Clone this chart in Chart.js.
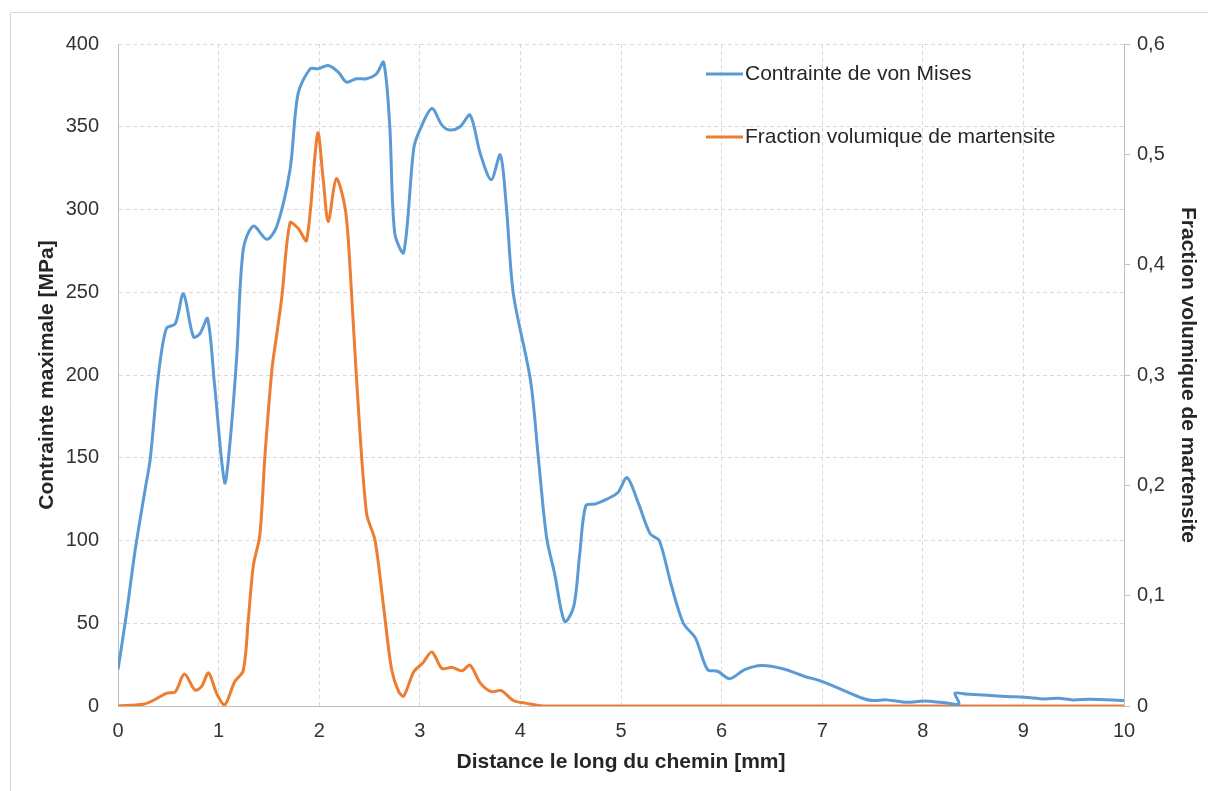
<!DOCTYPE html>
<html><head><meta charset="utf-8">
<script src="https://cdn.jsdelivr.net/npm/chart.js@4/dist/chart.umd.min.js"></script>
<style>html,body{margin:0;padding:0;background:#fff;overflow:hidden}canvas{display:block}</style>
</head><body>
<canvas id="c" width="1208" height="791"></canvas>
<script>
// Contrainte de von Mises [MPa] along the path [mm]
const distanceStress = [0.00,0.085,0.17,0.27,0.32,0.40,0.48,0.57,0.65,0.75,0.815,0.89,0.96,1.06,1.11,1.18,1.245,1.345,1.48,1.58,1.71,1.79,1.91,1.99,2.09,2.19,2.27,2.37,2.47,2.57,2.64,2.70,2.75,2.84,2.94,3.00,3.12,3.22,3.30,3.40,3.50,3.60,3.71,3.80,3.86,3.93,4.10,4.18,4.26,4.34,4.44,4.53,4.59,4.65,4.74,4.86,4.97,5.06,5.17,5.29,5.38,5.50,5.62,5.74,5.86,5.96,6.08,6.23,6.40,6.61,6.82,6.99,7.19,7.40,7.50,7.64,7.84,8.01,8.22,8.36,8.32,8.42,8.60,8.84,9.01,9.21,9.35,9.49,9.66,10.0];
const stressMPa = [22,56,94,131,149,199,228,231,249,223,225,234,194,135,157,211,276,290,282,290,324,370,385,385,387,383,377,379,379,382,389,352,286,274,337,348,361,351,348,350,357,334,318,333,302,249,197,149,102,80,51,60,92,121,122,125,129,138,123,104,100,73,50,41,22,21,16.5,22,24.5,22.5,18,15,10,4.7,3.3,3.7,2.2,3.0,2.0,1.2,7.7,7.3,6.7,5.7,5.3,4.3,4.7,3.7,4.1,3.3];

// Fraction volumique de martensite along the path [mm]
const distanceFraction = [0,0.25,0.35,0.48,0.57,0.66,0.765,0.83,0.90,0.98,1.06,1.16,1.245,1.295,1.345,1.41,1.46,1.53,1.58,1.63,1.71,1.79,1.875,1.985,2.04,2.09,2.17,2.26,2.31,2.37,2.47,2.555,2.64,2.72,2.79,2.84,2.94,3.03,3.12,3.22,3.32,3.42,3.50,3.60,3.71,3.81,3.93,4.06,4.23,5,6,7,8,9,10];
const martensiteFraction = [0,0.0015,0.005,0.0115,0.013,0.029,0.0145,0.0175,0.030,0.0115,0.001,0.022,0.032,0.078,0.127,0.155,0.226,0.305,0.338,0.372,0.438,0.433,0.422,0.519,0.477,0.439,0.478,0.450,0.392,0.298,0.175,0.150,0.090,0.033,0.013,0.009,0.031,0.039,0.049,0.034,0.035,0.032,0.037,0.021,0.013,0.014,0.005,0.0024,0,0,0,0,0,0,0];

const seriesLabels = ['Contrainte de von Mises', 'Fraction volumique de martensite'];
const axisTitles = ['Distance le long du chemin [mm]', 'Contrainte maximale [MPa]', 'Fraction volumique de martensite'];
const xRange = [0, 10, 1];
const yLeftRange = [0, 400, 50];
const yRightRange = [0, 0.6, 0.1];

const BLUE = '#5B9BD5', ORANGE = '#ED7D31';
const TXT = '#333333', GRID = '#d9d9d9', AXIS = '#bfbfbf';
const FONT = 'Liberation Sans, Arial, sans-serif';

const deco = {
  id: 'deco',
  beforeDraw(chart) {
    const ctx = chart.ctx;
    ctx.save();
    ctx.fillStyle = '#fff';
    ctx.fillRect(0, 0, chart.width, chart.height);
    ctx.strokeStyle = '#d9d9d9';
    ctx.lineWidth = 1;
    ctx.beginPath();
    ctx.moveTo(10.5, chart.height + 5);
    ctx.lineTo(10.5, 12.5);
    ctx.lineTo(chart.width + 5, 12.5);
    ctx.stroke();
    ctx.restore();
  },
  afterDraw(chart) {
    const ctx = chart.ctx, a = chart.chartArea;
    ctx.save();
    ctx.font = '21px ' + FONT;
    ctx.textBaseline = 'middle';
    ctx.textAlign = 'left';
    chart.data.datasets.forEach((ds, i) => {
      const y = a.top + 30 + i * 63;
      const x0 = a.left + 588;
      ctx.strokeStyle = ds.borderColor;
      ctx.lineWidth = 3;
      ctx.beginPath();
      ctx.moveTo(x0, y);
      ctx.lineTo(x0 + 37, y);
      ctx.stroke();
      ctx.fillStyle = '#262626';
      ctx.fillText(ds.label, x0 + 39, y);
    });
    ctx.restore();
  }
};

new Chart(document.getElementById('c'), {
  type: 'line',
  data: {
    datasets: [
      { label: seriesLabels[0], yAxisID: 'y',
        data: distanceStress.map((d, i) => ({x: d, y: stressMPa[i]})),
        borderColor: BLUE, backgroundColor: BLUE, borderWidth: 3, pointRadius: 0, tension: 0.3, fill: false },
      { label: seriesLabels[1], yAxisID: 'y1',
        data: distanceFraction.map((d, i) => ({x: d, y: martensiteFraction[i]})),
        borderColor: ORANGE, backgroundColor: ORANGE, borderWidth: 3, pointRadius: 0, tension: 0.3, fill: false }
    ]
  },
  options: {
    responsive: false, animation: false, devicePixelRatio: 1,
    layout: { padding: { top: 44, left: 0, right: 0, bottom: 0 } },
    plugins: { legend: { display: false }, tooltip: { enabled: false }, title: { display: false } },
    scales: {
      x: {
        type: 'linear', min: xRange[0], max: xRange[1],
        afterFit: s => { s.height = 85; },
        ticks: { stepSize: xRange[2], color: TXT, font: { size: 20, family: FONT }, padding: 13, maxRotation: 0 },
        grid: { color: GRID, drawTicks: false, lineWidth: 1 },
        border: { display: true, color: AXIS, width: 1, dash: [4, 3] },
        title: { display: true, text: axisTitles[0], color: '#262626', font: { size: 21, weight: 'bold', family: FONT }, padding: { top: 0, bottom: 16 } }
      },
      y: {
        position: 'left', min: yLeftRange[0], max: yLeftRange[1],
        afterFit: s => { s.width = 118; },
        ticks: { stepSize: yLeftRange[2], color: TXT, font: { size: 20, family: FONT }, padding: 19 },
        grid: { color: GRID, drawTicks: false, lineWidth: 1 },
        border: { display: true, color: AXIS, width: 1, dash: [4, 3] },
        title: { display: true, text: axisTitles[1], color: '#262626', font: { size: 21, weight: 'bold', family: FONT }, padding: { top: 35, bottom: 0 } }
      },
      y1: {
        position: 'right', min: yRightRange[0], max: yRightRange[1],
        afterFit: s => { s.width = 84; },
        ticks: { stepSize: yRightRange[2], color: TXT, font: { size: 20, family: FONT }, padding: 7,
          callback: v => (Math.round(v * 10) / 10).toString().replace('.', ',') },
        grid: { drawOnChartArea: false, drawTicks: true, tickLength: 6, tickColor: AXIS },
        border: { display: true, color: AXIS, width: 1 },
        title: { display: true, text: axisTitles[2], color: '#262626', font: { size: 21, weight: 'bold', family: FONT }, padding: { top: 8, bottom: 0 } }
      }
    }
  },
  plugins: [deco]
});
</script>
</body></html>
